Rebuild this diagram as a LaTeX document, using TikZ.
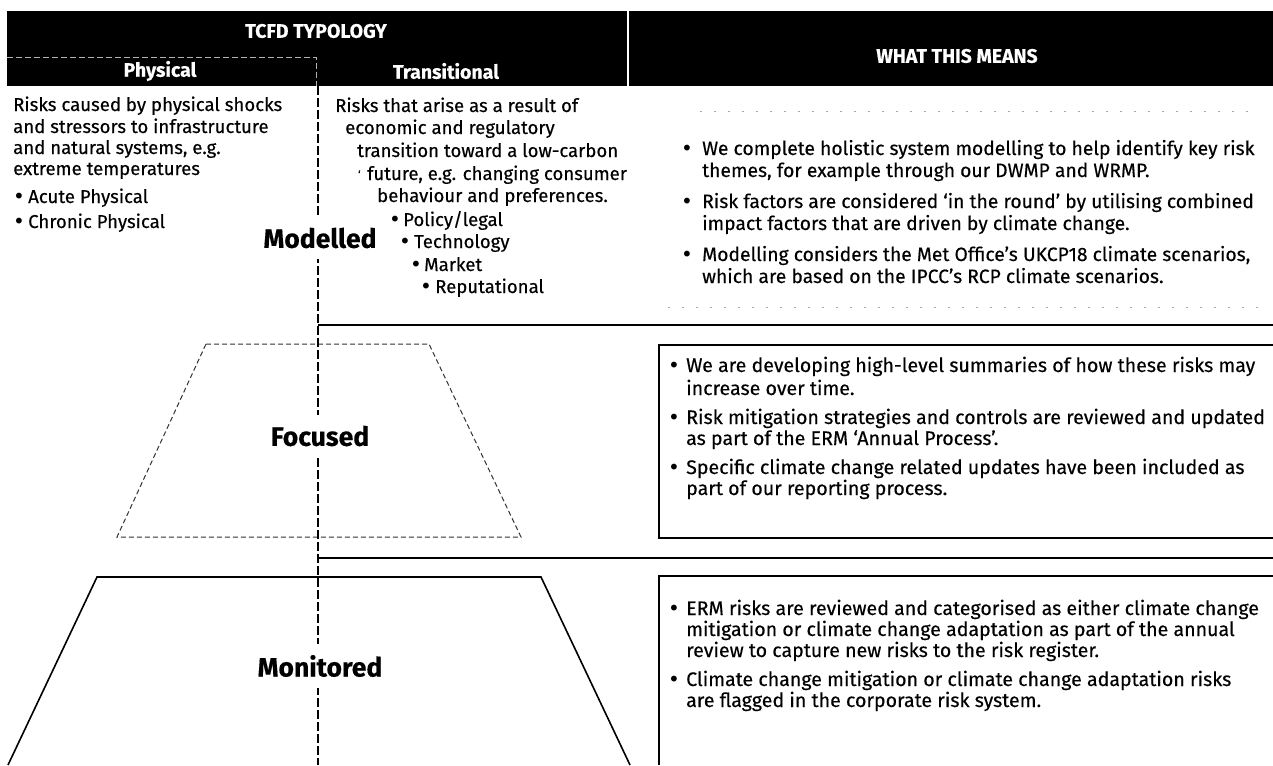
\documentclass[tikz,border=0pt]{standalone}
\usepackage{fontspec}
\setmainfont{Fira Sans}[FakeBold=0.35]
\newfontfamily\bulfont{DejaVu Sans}
\begin{document}
\begin{tikzpicture}[x=1pt,y=-1pt,
  bodytxt/.style={font=\fontsize{18.6}{21}\selectfont, anchor=base west, inner sep=0pt},
  modtxt/.style={font=\fontsize{19.3}{21}\selectfont, anchor=base west, inner sep=0pt},
  rtxt/.style={font=\fontsize{19.6}{21}\selectfont, anchor=base west, inner sep=0pt},
  bul/.style={font=\bulfont\fontsize{20}{20}\selectfont, anchor=base, inner sep=0pt},
  hdr/.style={font=\bfseries\fontsize{19.5}{21}\selectfont, text=white, inner sep=0pt},
  lvl/.style={font=\bfseries\fontsize{26.5}{29}\selectfont, fill=white, inner xsep=2pt, inner ysep=11pt},
  divider/.style={line width=1.5pt, dash pattern=on 9pt off 3pt},
  sepline/.style={line width=2pt},
  trapfoc/.style={line width=1pt, black!80, dash pattern=on 5pt off 3pt},
  trapmon/.style={line width=1.6pt},
  boxedge/.style={line width=1.6pt},
  faint/.style={line width=0.8pt, black!35, dash pattern=on 2pt off 12pt}
]
\useasboundingbox (0,0) rectangle (1273,765);
% header
\fill[black] (7,11) rectangle (1273,86);
\draw[white, line width=2.5pt] (628,11) -- (628,86);
\draw[white!70!black, line width=0.8pt, dash pattern=on 6pt off 3pt] (7,57) -- (316,57) -- (316,86);
\node[hdr] (tcfd) at (316,31) {TCFD TYPOLOGY};
\node[hdr] (phys) at (160,71) {Physical};
\node[hdr] (trans) at (446,71) {Transitional};
\node[hdr] (what) at (957,56) {WHAT THIS MEANS};

% coordinates
\coordinate (vtop) at (318,86);
\coordinate (vbot) at (318,765);
\coordinate (s1a) at (318,325);
\coordinate (s1b) at (1273,325);
\coordinate (s2a) at (318,558);
\coordinate (s2b) at (1273,558);

% trapezoids
\draw[trapfoc] (206,344) -- (429,344) -- (521,537) -- (117,537) -- cycle;
\draw[trapmon] (8,765) -- (97,577) -- (541,577) -- (630,765);

% divider and separators
\draw[divider] (vtop) -- (vbot);
\draw[sepline] (s1a) -- (s1b);
\draw[sepline] (s2a) -- (s2b);

% faint lines in modelled area
\draw[faint] (700,111) -- (1255,111);
\draw[faint] (668,307) -- (1265,307);

% focused box
\coordinate (fb1) at (659,345);
\coordinate (fb2) at (659,538);
\draw[boxedge] (1273,345) -- (fb1) -- (fb2) -- (1273,538);
% monitored box
\coordinate (mb1) at (659,576);
\draw[boxedge] (1273,576) -- (mb1) -- (659,765);

% level labels
\node[lvl] (modelled) at (320,238) {Modelled};
\node[lvl] (focused) at (320,436) {Focused};
\node[lvl] (monitored) at (320,666) {Monitored};

% physical
\node[bodytxt] (p1) at (13,111) {Risks caused by physical shocks};
\node[bodytxt] (p2) at (13,133) {and stressors to infrastructure};
\node[bodytxt] (p3) at (13,154) {and natural systems, e.g.};
\node[bodytxt] (p4) at (13,175) {extreme temperatures};
\node[bul] (p5b) at (19,203) {•};
\node[bodytxt] (p5) at (28,203) {Acute Physical};
\node[bul] (p6b) at (19,228) {•};
\node[bodytxt] (p6) at (28,228) {Chronic Physical};

% transitional
\node[bodytxt] (t1) at (335,112) {Risks that arise as a result of};
\node[bodytxt] (t2) at (345,134) {economic and regulatory};
\node[bodytxt] (t3) at (357,157) {transition toward a low-carbon};
\node[bodytxt] (t4a) at (358,178) {\fontsize{10}{10}\selectfont `};
\node[bodytxt] (t4) at (367,180) {future, e.g. changing consumer};
\node[bodytxt] (t5) at (377,202) {behaviour and preferences.};
\node[bul] (t6b) at (395,226) {•};
\node[bodytxt] (t6) at (403,226) {Policy/legal};
\node[bul] (t7b) at (405,248) {•};
\node[bodytxt] (t7) at (414,248) {Technology};
\node[bul] (t8b) at (416,271) {•};
\node[bodytxt] (t8) at (424,271) {Market};
\node[bul] (t9b) at (426,293) {•};
\node[bodytxt] (t9) at (435,293) {Reputational};

% modelled means
\node[bul] (mb1a) at (687,155) {•};
\node[modtxt] (m1) at (702,155) {We complete holistic system modelling to help identify key risk};
\node[modtxt] (m2) at (702,177) {themes, for example through our DWMP and WRMP.};
\node[bul] (mb2a) at (687,208) {•};
\node[modtxt] (m3) at (702,208) {Risk factors are considered `in the round' by utilising combined};
\node[modtxt] (m4) at (702,230) {impact factors that are driven by climate change.};
\node[bul] (mb3a) at (687,261) {•};
\node[modtxt] (m5) at (702,261) {Modelling considers the Met Office's UKCP18 climate scenarios,};
\node[modtxt] (m6) at (702,283) {which are based on the IPCC's RCP climate scenarios.};

% focused means
\node[bul] (fba) at (674,372) {•};
\node[rtxt] (f1) at (686,372) {We are developing high-level summaries of how these risks may};
\node[rtxt] (f2) at (686,395) {increase over time.};
\node[bul] (fbb) at (674,424) {•};
\node[rtxt] (f3) at (686,424) {Risk mitigation strategies and controls are reviewed and updated};
\node[rtxt] (f4) at (686,445) {as part of the ERM `Annual Process'.};
\node[bul] (fbc) at (674,474) {•};
\node[rtxt] (f5) at (686,474) {Specific climate change related updates have been included as};
\node[rtxt] (f6) at (686,495) {part of our reporting process.};

% monitored means
\node[bul] (nba) at (674,615) {•};
\node[rtxt] (n1) at (686,615) {ERM risks are reviewed and categorised as either climate change};
\node[rtxt] (n2) at (686,636) {mitigation or climate change adaptation as part of the annual};
\node[rtxt] (n3) at (686,657) {review to capture new risks to the risk register.};
\node[bul] (nbb) at (674,686) {•};
\node[rtxt] (n4) at (686,686) {Climate change mitigation or climate change adaptation risks};
\node[rtxt] (n5) at (686,707) {are flagged in the corporate risk system.};
\end{tikzpicture}
\end{document}
